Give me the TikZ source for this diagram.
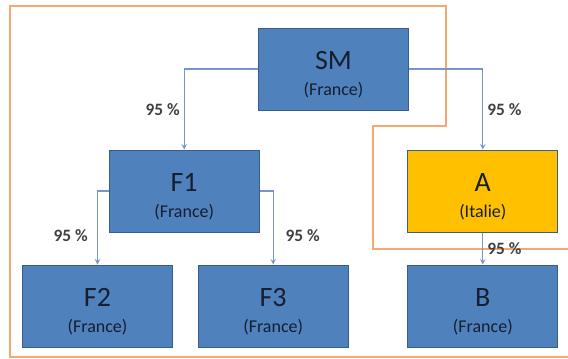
\documentclass[tikz,border=0pt]{standalone}
\usepackage{fontspec}
\setmainfont{Carlito}
\usetikzlibrary{arrows, positioning}

\definecolor{boxblue}{RGB}{79,129,189}
\definecolor{boxedge}{RGB}{56,93,138}
\definecolor{italyyellow}{RGB}{255,192,0}
\definecolor{arrowblue}{RGB}{118,150,201}
\definecolor{perimorange}{RGB}{246,168,112}
\definecolor{sharegray}{RGB}{64,64,64}
\definecolor{nametext}{RGB}{22,30,48}

\newcommand{\entity}[2]{\rule{0pt}{22.5pt}{\fontsize{21}{21}\selectfont #1}\\(#2)}

\begin{document}
\begin{tikzpicture}[x=0.75pt, y=0.75pt, node distance=91.5pt]
        % styles %
        \tikzstyle{company} = [rectangle, draw=boxedge, fill=boxblue, line width=0.75pt, minimum width=112.5pt, minimum height=61.5pt, align=center, text=nametext, inner sep=0pt, font=\fontsize{13.5}{19.5}\selectfont];
        \tikzstyle{holding} = [->, draw=arrowblue, line width=0.8pt, >=stealth];
        \tikzstyle{share} = [font=\fontsize{13}{15}\selectfont\bfseries, text=sharegray, inner sep=3pt];
        \tikzstyle{perimeter} = [draw=perimorange, line width=1pt];

        \useasboundingbox (0,0) rectangle (568,-358);

        % perimeter %
        \draw[perimeter] (568,-249) -- (373,-249) -- (373,-126) -- (446,-126)
                      -- (446,-6) -- (10,-6) -- (10,-357) -- (568,-357);

        % nodes %
        \node [company] (sm) at (333.5,-69) {\entity{SM}{France}};
        \node [company] (f1) [below of = sm, xshift=-112pt] {\entity{F1}{France}};
        \node [company, fill=italyyellow] (a) [below of = sm, xshift=112pt] {\entity{A}{Italie}};
        \node [company] (f2) [below of = f1, yshift=5.25pt, xshift=-65pt] {\entity{F2}{France}};
        \node [company] (f3) [below of = f1, yshift=5.25pt, xshift=66.75pt] {\entity{F3}{France}};
        \node [company] (b) [below of = a, yshift=5.25pt] {\entity{B}{France}};

        % edges %
        \path[holding] (sm.west) -| node [share, pos=0.75, left] {95 \%} (f1.north);
        \path[holding] (sm.east) -| node [share, pos=0.75, right] {95 \%} (a.north);
        \path[holding] (f1.west) -| node [share, pos=0.8, left, xshift=-4pt] {95 \%} (f2.north);
        \path[holding] (f1.east) -| node [share, pos=0.8, right, xshift=6pt] {95 \%} (f3.north);
        \path[holding] (a) -- node [share, right] {95 \%} (b);
\end{tikzpicture}
\end{document}
